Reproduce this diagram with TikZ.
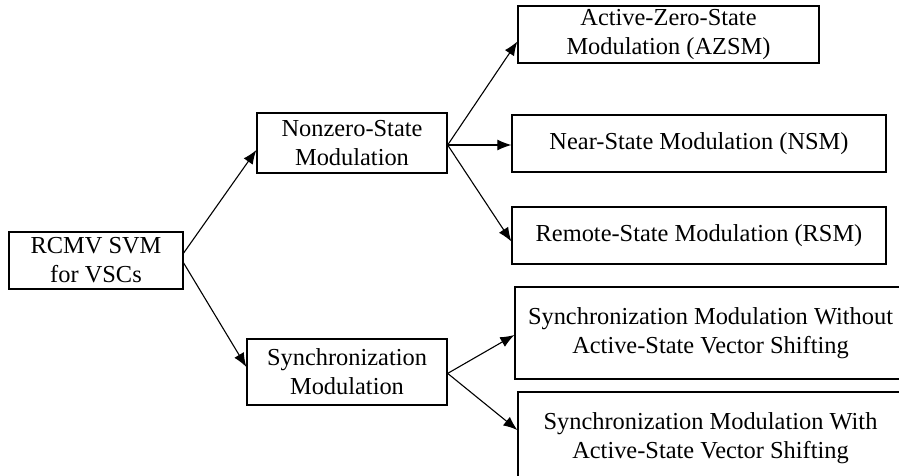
\documentclass[tikz,border=0pt]{standalone}
\usepackage{fontspec}
\setmainfont{Liberation Serif}
\usetikzlibrary{arrows.meta}

\begin{document}
\begin{tikzpicture}[x=0.5pt, y=-0.5pt,
    box/.style={draw, line width=0.65pt, inner sep=0pt, align=center,
      font=\fontsize{12.2pt}{14.6pt}\selectfont},
    link/.style={line width=0.55pt, -{Latex[length=7pt, width=5.5pt]}}]
    \useasboundingbox (0, 0) rectangle (899, 476);
    \clip (0, 0) rectangle (899, 476);

    \node [box, minimum width=87pt, minimum height=28.5pt] (rcmv) at (96, 260.5) {RCMV SVM\\for VSCs};
    \node [box, minimum width=95pt, minimum height=30pt] (nonzero) at (352, 143) {Nonzero-State\\Modulation};
    \node [box, minimum width=100pt, minimum height=33pt] (sync) at (347, 372) {Synchronization\\Modulation};

    \node [box, minimum width=150.5pt, minimum height=28.5pt] (azsm) at (668.5, 34.5) {Active-Zero-State\\Modulation (AZSM)};
    \node [box, minimum width=187pt, minimum height=28.5pt] (nsm) at (699, 143.5) {Near-State Modulation (NSM)};
    \node [box, minimum width=187pt, minimum height=28.5pt] (rsm) at (699, 235.5) {Remote-State Modulation (RSM)};
    \node [box, minimum width=195.5pt, minimum height=46pt] (without) at (710.5, 333) {Synchronization Modulation Without\\Active-State Vector Shifting};
    \node [box, minimum width=192.5pt, minimum height=46pt] (with) at (710.5, 438) {Synchronization Modulation With\\Active-State Vector Shifting};

    % first level
    \draw [link] ([yshift=3.75pt]rcmv.east) -- ([yshift=-3.5pt]nonzero.west);
    \draw [link] ([yshift=-1.25pt]rcmv.east) -- ([yshift=2.5pt]sync.west);

    % nonzero-state branch
    \draw [link] ([yshift=-1pt]nonzero.east) -- ([yshift=-3.5pt]azsm.west);
    \draw [link] ([yshift=-1pt]nonzero.east) -- ([yshift=-0.75pt]nsm.west);
    \draw [link] ([yshift=-1pt]nonzero.east) -- ([yshift=-3pt]rsm.west);

    % synchronization branch
    \draw [link] ([yshift=-0.7pt]sync.east) -- ([yshift=-1pt]without.west);
    \draw [link] ([yshift=-0.7pt]sync.east) -- ([yshift=4pt]with.west);
\end{tikzpicture}
\end{document}
